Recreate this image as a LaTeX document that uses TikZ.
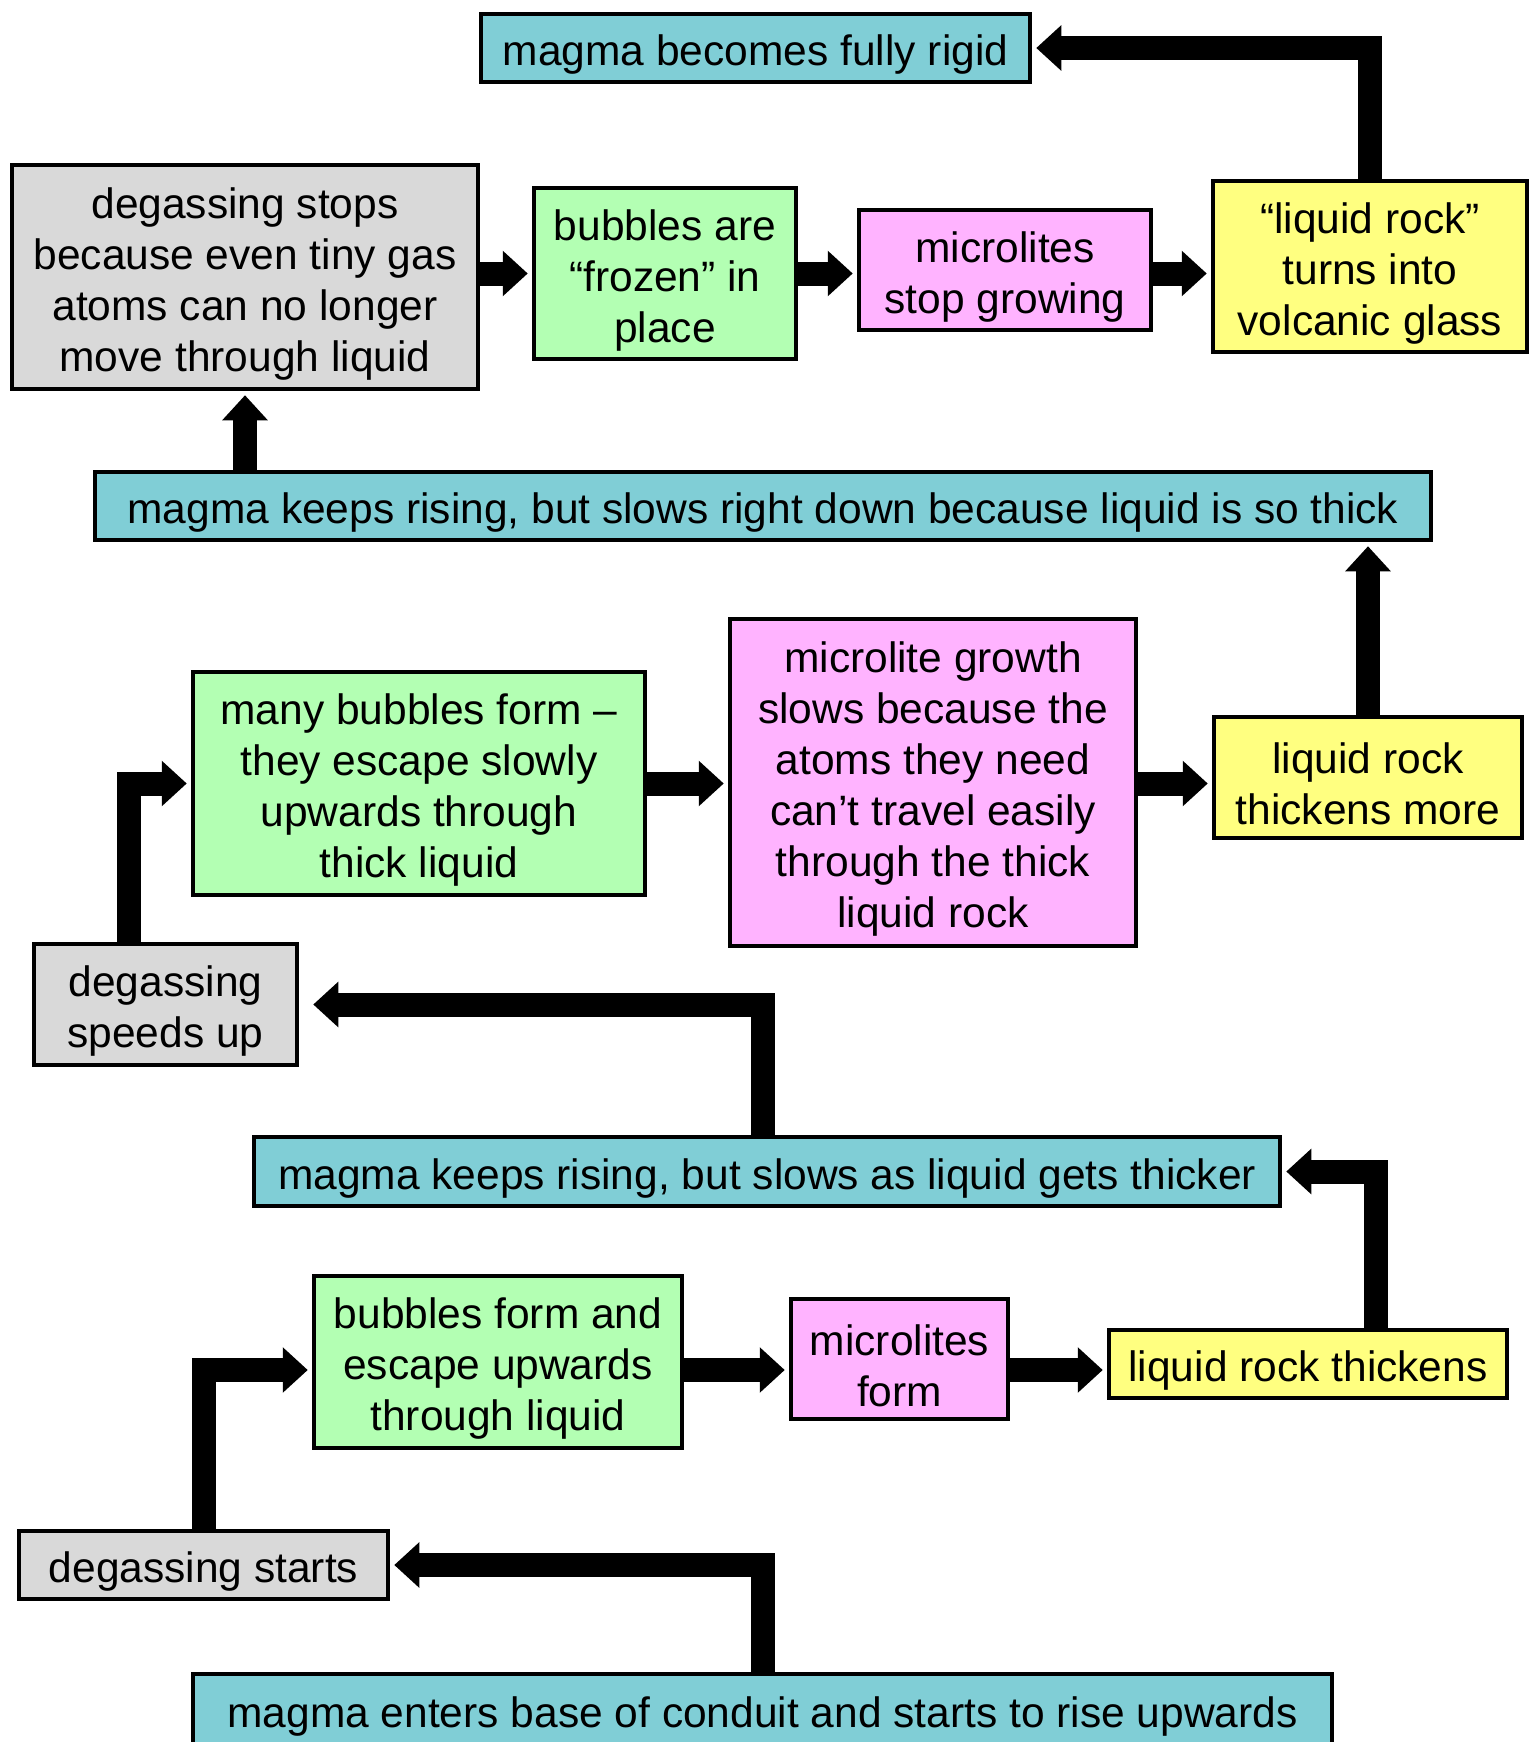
\documentclass[tikz,border=0pt]{standalone}
\usepackage{fontspec}
\setmainfont{Liberation Sans}
\usetikzlibrary{arrows.meta}
\definecolor{riseblue}{RGB}{128,206,214}
\definecolor{gasgray}{RGB}{217,217,217}
\definecolor{bubgreen}{RGB}{179,255,179}
\definecolor{micpink}{RGB}{255,179,255}
\definecolor{rockyellow}{RGB}{255,255,128}

\begin{document}
\begin{tikzpicture}[
 x=1pt, y=-1pt, font=\fontsize{42.5}{51}\selectfont,
 box/.style={draw, line width=4.5pt, align=center, inner sep=0pt},
 dims/.style n args={3}{minimum width=#1pt, minimum height=#2pt, text height={44pt+51pt*(#3-1)}},
 rise/.style={box, fill=riseblue}, gas/.style={box, fill=gasgray},
 bub/.style={box, fill=bubgreen}, mic/.style={box, fill=micpink},
 rock/.style={box, fill=rockyellow},
 flow/.style={draw, line width=24pt, -{Triangle[length=25pt, width=44pt]}, shorten >=4pt}]
\useasboundingbox (0,0) rectangle (1531,1742);
% top row
\node[rise, dims={549}{68}{1}] (rigid) at (755.5,48) {magma becomes fully rigid};
\node[gas, dims={466}{224}{4}] (stops) at (245,277) {degassing stops\\ because even tiny gas\\ atoms can no longer\\ move through liquid};
\node[bub, dims={262}{171}{3}] (frozen) at (665,273.5) {bubbles are\\ “frozen” in\\ place};
\node[mic, dims={292}{120}{2}] (stopgrow) at (1005,270) {microlites\\ stop growing};
\node[rock, dims={314}{171}{3}] (glass) at (1370,266.5) {“liquid rock”\\ turns into\\ volcanic glass};
\node[rise, dims={1336}{68}{1}] (thick) at (763,506) {magma keeps rising, but slows right down because liquid is so thick};
% middle row
\node[bub, dims={452}{223}{4}] (many) at (419,783.5) {many bubbles form –\\ they escape slowly\\ upwards through\\ thick liquid};
\node[mic, dims={406}{327}{6}] (growth) at (933,782.5) {microlite growth\\ slows because the\\ atoms they need\\ can’t travel easily\\ through the thick\\ liquid rock};
\node[rock, dims={308}{121}{2}] (more) at (1368,777.5) {liquid rock\\ thickens more};
\node[gas, dims={263}{121}{2}] (speeds) at (165.5,1004.5) {degassing\\ speeds up};
\node[rise, dims={1026}{69}{1}] (thicker) at (767,1171.5) {magma keeps rising, but slows as liquid gets thicker};
% bottom row
\node[bub, dims={368}{172}{3}] (form) at (498,1362) {bubbles form and\\ escape upwards\\ through liquid};
\node[mic, dims={217}{120}{2}] (mform) at (899.5,1359) {microlites\\ form};
\node[rock, dims={398}{68}{1}] (thickens) at (1308,1364) {liquid rock thickens};
\node[gas, dims={369}{68}{1}] (starts) at (203.5,1565) {degassing starts};
\node[rise, dims={1139}{72}{1}] (enters) at (762.5,1710) {magma enters base of conduit and starts to rise upwards};

\draw[flow] (enters.north) |- (starts.east);
\draw[flow] (starts.north) |- ([yshift=-8pt]form.west);
\draw[flow] ([yshift=-8pt]form.east) -- ([yshift=-8pt]form.east -| mform.west);
\draw[flow] ([yshift=-8pt]form.east -| mform.east) -- ([yshift=-8pt]form.east -| thickens.west);
\draw[flow] ([xshift=68pt]thickens.north) |- (thicker.east);
\draw[flow, shorten >=14pt] ([xshift=-4pt]thicker.north) |- (speeds.east);
\draw[flow] ([xshift=-37pt]speeds.north) |- (many.west);
\draw[flow] (many.east) -- (many.east -| growth.west);
\draw[flow] (growth.east |- many) -- (many -| more.west);
\draw[flow] (more.north) -- (more.north |- thick.south);
\draw[flow] (stops.south |- thick.north) -- (stops.south);
\draw[flow] (stops.east |- frozen) -- (frozen.west);
\draw[flow] (frozen.east) -- (frozen.east -| stopgrow.west);
\draw[flow] (stopgrow.east |- frozen) -- (frozen -| glass.west);
\draw[flow] (glass.north) |- (rigid.east);
\end{tikzpicture}
\end{document}
